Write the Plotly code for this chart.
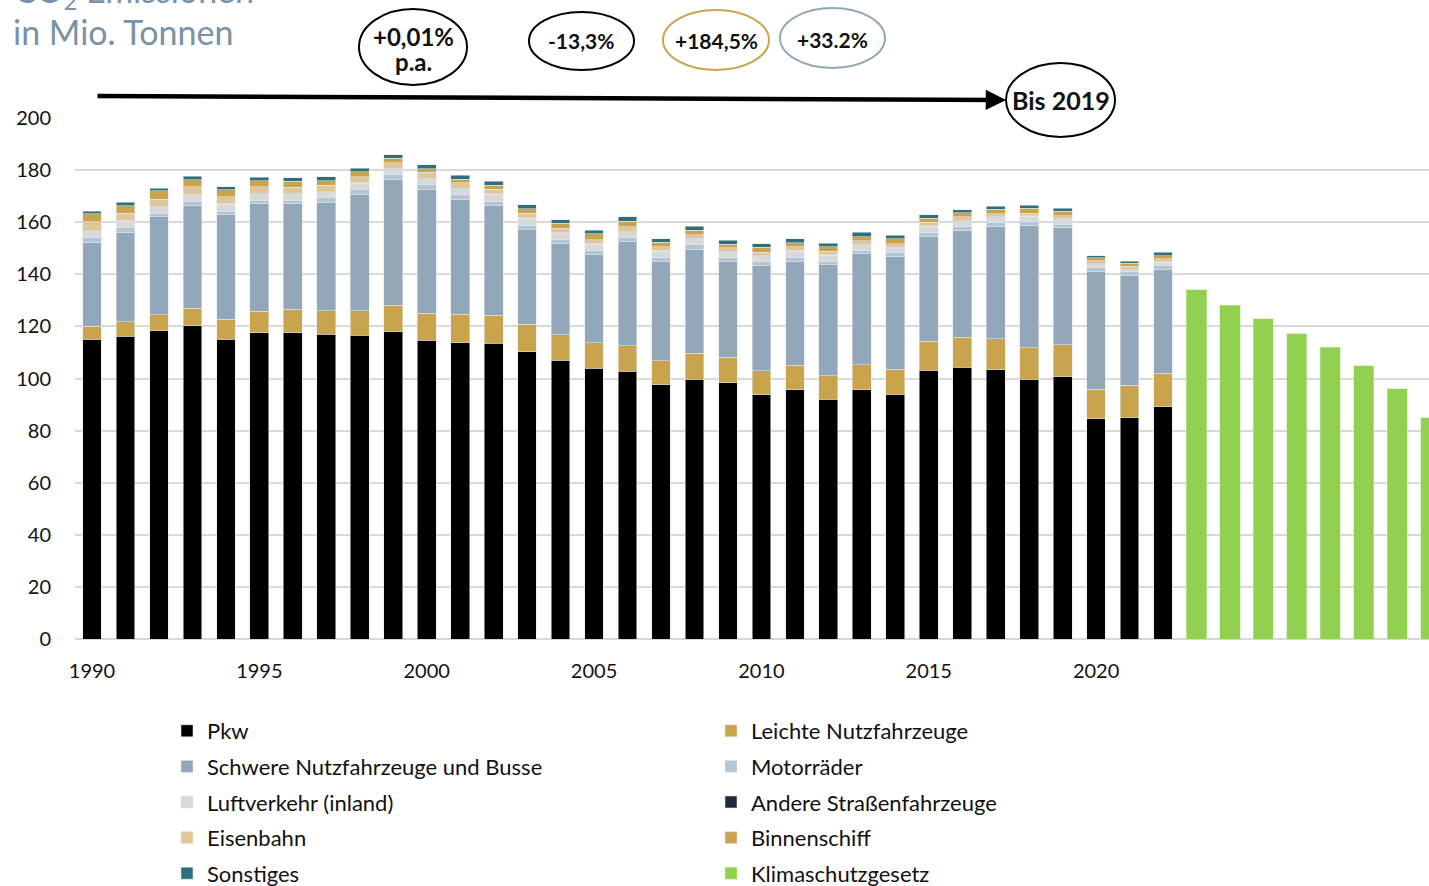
import plotly.graph_objects as go

# ---------------- data (Mio. t CO2) ----------------
years = list(range(1990, 2023))
pkw = [115.0, 116.3, 118.4, 120.3, 115.0, 117.6, 117.6, 116.9, 116.6, 118.0,
       114.6, 113.7, 113.5, 110.3, 107.0, 103.9, 102.8, 97.6, 99.8, 98.4,
       93.7, 95.7, 92.1, 95.7, 93.9, 103.1, 104.3, 103.3, 99.8, 100.6,
       84.5, 85.0, 89.1]
leichte = [5.1, 5.5, 6.0, 6.6, 7.7, 8.3, 8.9, 9.1, 9.4, 10.2,
           10.4, 10.9, 10.7, 10.5, 9.8, 9.8, 9.8, 9.2, 9.9, 9.7,
           9.2, 9.4, 9.0, 9.5, 9.6, 11.2, 11.6, 12.0, 12.1, 12.3,
           11.3, 12.4, 12.9]
schwere = [32.3, 34.3, 37.6, 39.7, 40.1, 41.1, 40.5, 41.7, 44.8, 48.1,
           47.4, 44.0, 42.1, 36.3, 34.9, 33.8, 39.9, 38.0, 39.8, 36.7,
           40.4, 40.0, 42.6, 42.6, 43.5, 40.4, 41.1, 43.2, 47.0, 44.9,
           45.1, 42.1, 40.0]
motorraeder = [1.9, 1.7, 1.5, 1.5, 1.5, 1.5, 1.5, 1.7, 1.9, 1.9,
               1.9, 1.9, 1.8, 1.8, 1.7, 1.8, 1.7, 1.5, 1.8, 1.5,
               1.5, 1.5, 1.4, 1.5, 1.5, 1.5, 1.5, 1.5, 1.5, 1.5,
               1.7, 1.4, 1.5]
luftverkehr = [2.4, 2.6, 2.4, 2.4, 2.6, 2.4, 2.4, 2.3, 2.3, 2.4,
               2.4, 2.4, 2.6, 2.6, 2.3, 2.3, 2.2, 2.6, 2.3, 2.3,
               2.3, 2.3, 2.3, 2.0, 2.0, 2.3, 2.0, 2.0, 1.9, 2.0,
               1.4, 0.9, 1.2]
andere = [0.3, 0.2, 0.3, 0.2, 0.2, 0.2, 0.2, 0.2, 0.2, 0.2,
          0.2, 0.2, 0.2, 0.2, 0.2, 0.2, 0.2, 0.2, 0.2, 0.2,
          0.2, 0.2, 0.2, 0.2, 0.2, 0.2, 0.2, 0.2, 0.2, 0.2,
          0.2, 0.2, 0.2]
eisenbahn = [3.1, 2.9, 2.7, 2.9, 2.6, 2.6, 2.3, 2.3, 2.3, 2.0,
             2.2, 2.0, 1.7, 1.7, 1.7, 1.5, 1.7, 1.4, 1.3, 1.3,
             1.2, 1.4, 1.2, 1.3, 1.0, 1.2, 1.3, 1.0, 0.9, 1.0,
             1.0, 1.0, 1.0]
binnenschiff = [3.2, 2.8, 3.1, 2.7, 2.8, 2.3, 2.3, 1.8, 1.9, 1.7,
                1.5, 1.4, 1.5, 1.8, 2.0, 2.2, 2.0, 1.9, 1.9, 1.4,
                1.9, 1.7, 1.8, 1.7, 1.9, 1.7, 1.7, 1.8, 1.9, 1.7,
                1.2, 1.2, 1.3]
sonstiges = [1.0, 1.3, 1.0, 1.3, 1.2, 1.3, 1.4, 1.5, 1.4, 1.4,
             1.5, 1.5, 1.7, 1.5, 1.3, 1.5, 1.7, 1.3, 1.5, 1.5,
             1.3, 1.4, 1.3, 1.7, 1.3, 1.3, 1.0, 1.2, 1.3, 1.2,
             0.8, 0.8, 1.3]
future_years = list(range(2023, 2031))
klimaschutz = [134.1, 128.1, 123.0, 117.1, 112.0, 104.9, 96.0, 85.0]

x_ticks = [1990, 1995, 2000, 2005, 2010, 2015, 2020]
y_ticks = [0, 20, 40, 60, 80, 100, 120, 140, 160, 180, 200]

# ---------------- styling ----------------
FONT = "Lato"
W, H = 1429, 886
L, T, B = 75, 118, 247
PW, PH = W - L, H - T - B

def px2x(px):
    return (px - L) / PW

def py2y(py):
    return (H - B - py) / PH

series = [
    ("Pkw", pkw, "#000000", "legend"),
    ("Leichte Nutzfahrzeuge", leichte, "#c9a44d", "legend2"),
    ("Schwere Nutzfahrzeuge und Busse", schwere, "#93a7ba", "legend"),
    ("Motorräder", motorraeder, "#b4c6d6", "legend2"),
    ("Luftverkehr (inland)", luftverkehr, "#d9d9d9", "legend"),
    ("Andere Straßenfahrzeuge", andere, "#1f2a3a", "legend2"),
    ("Eisenbahn", eisenbahn, "#e1c69b", "legend"),
    ("Binnenschiff", binnenschiff, "#c9a44d", "legend2"),
    ("Sonstiges", sonstiges, "#2f6f79", "legend"),
]

fig = go.Figure()
for i, (name, vals, col, lg) in enumerate(series):
    fig.add_trace(go.Bar(
        x=years, y=vals, name=name, legend=lg, legendgroup=f"g{i}",
        width=0.56,
        marker=dict(color=col, line=dict(color="rgba(225,232,238,0.9)", width=0.6)),
    ))
fig.add_trace(go.Bar(
    x=future_years, y=klimaschutz, name="Klimaschutzgesetz", legend="legend2",
    legendgroup="g9", width=0.6,
    marker=dict(color="#92d050", line=dict(color="rgba(200,235,170,0.9)", width=0.6)),
))

x0 = 1990 - 17 / 33.47
x1 = x0 + PW / 33.47

legend_common = dict(
    orientation="v", traceorder="grouped", tracegroupgap=4,
    font=dict(family=FONT, size=22, color="#111111"),
    bgcolor="rgba(0,0,0,0)", borderwidth=0,
    xref="container", yref="container", yanchor="top", xanchor="left",
    itemwidth=30,
)

fig.update_layout(
    width=W, height=H,
    margin=dict(l=L, r=0, t=T, b=B, pad=0, autoexpand=False),
    paper_bgcolor="white", plot_bgcolor="white",
    barmode="stack",
    font=dict(family=FONT, size=20, color="#111111"),
    showlegend=True,
    legend=dict(x=167 / W, y=1 - 710 / H, **legend_common),
    legend2=dict(x=711 / W, y=1 - 710 / H, **legend_common),
    xaxis=dict(
        range=[x0, x1], tickvals=x_ticks, ticktext=[str(v) for v in x_ticks],
        showgrid=False, zeroline=False, showline=False, tickangle=0,
        ticks="outside", ticklen=14, tickcolor="rgba(0,0,0,0)",
        tickfont=dict(family=FONT, size=20, color="#111111"),
    ),
    yaxis=dict(
        range=[0, 200], tickvals=y_ticks,
        showgrid=True, gridcolor="#d9d9d9", gridwidth=2,
        zeroline=True, zerolinecolor="#d9d9d9", zerolinewidth=2,
        showline=False,
        ticks="outside", ticklen=19, tickcolor="rgba(0,0,0,0)",
        tickfont=dict(family=FONT, size=20, color="#111111"),
    ),
)

# ---------------- titles ----------------
title_col = "#7a92a7"
fig.add_annotation(text="CO<sub>2</sub> Emissionen", xref="paper", yref="paper",
                   x=px2x(12), y=py2y(-8), xanchor="left", yanchor="middle",
                   showarrow=False, font=dict(family=FONT, size=34, color=title_col))
fig.add_annotation(text="in Mio. Tonnen", xref="paper", yref="paper",
                   x=px2x(11), y=py2y(31), xanchor="left", yanchor="middle",
                   showarrow=False, font=dict(family=FONT, size=34, color=title_col))

# ---------------- bubbles ----------------
bubbles = [
    (359, 467, 9, 85, "#000000"),
    (529, 634, 12, 70, "#000000"),
    (663, 769, 10, 70, "#c9a44d"),
    (780, 885, 8, 68, "#93a7ba"),
    (1006, 1115, 63, 137, "#000000"),
]
for xa, xb, ya, yb, col in bubbles:
    fig.add_shape(type="circle", xref="paper", yref="paper",
                  x0=px2x(xa), x1=px2x(xb), y0=py2y(yb), y1=py2y(ya),
                  line=dict(color=col, width=2), fillcolor="white", layer="above")

labels = [
    ("+0,01%", 413, 37, 24),
    ("p.a.", 413, 62, 24),
    ("-13,3%", 581, 41, 21),
    ("+184,5%", 716, 40, 21),
    ("+33.2%", 832, 39, 21),
    ("Bis 2019", 1061, 100, 25),
]
for txt, cx, cy, fs in labels:
    fig.add_annotation(text=f"<b>{txt}</b>", xref="paper", yref="paper",
                       x=px2x(cx), y=py2y(cy), showarrow=False,
                       xanchor="center", yanchor="middle",
                       font=dict(family=FONT, size=fs, color="#111111"))

# arrow
fig.add_annotation(text="", xref="paper", yref="paper",
                   x=px2x(1006), y=py2y(100), ax=-910, ay=-4,
                   showarrow=True, arrowhead=2, arrowsize=0.9, arrowwidth=4.5,
                   arrowcolor="#000000")

fig.write_html("out.html", config={"displayModeBar": False},
               post_script="document.body.style.margin='0';document.body.style.overflow='hidden';")
